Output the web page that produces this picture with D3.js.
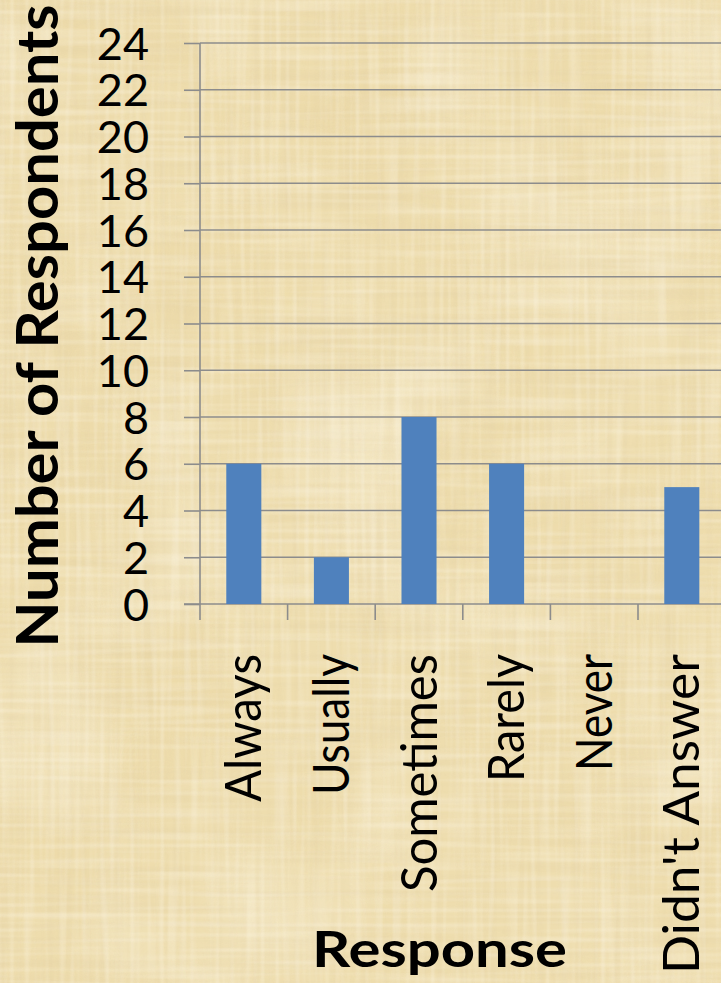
<!DOCTYPE html>
<html>
<head>
<meta charset="utf-8">
<script src="https://cdn.jsdelivr.net/npm/d3@7"></script>
<style>
  html, body { margin: 0; padding: 0; background: #EFDFB2; overflow: hidden; }
  svg { display: block; }
</style>
</head>
<body>
<svg id="chart" width="721" height="983"></svg>
<script>
// Survey responses: how many respondents gave each answer
const categories = ["Always", "Usually", "Sometimes", "Rarely", "Never", "Didn't Answer"];
const respondents = [6, 2, 8, 6, 0, 5];
const yTickValues = [0, 2, 4, 6, 8, 10, 12, 14, 16, 18, 20, 22, 24];
const yTitle = "Number of Respondents";
const xTitle = "Response";

const W = 721, H = 983;
const svg = d3.select("#chart");

// ---- parchment background ----
const defs = svg.append("defs");

function noiseFilter(id, freq, seed, octaves, rgb, gain, bias) {
  const f = defs.append("filter").attr("id", id)
    .attr("filterUnits", "userSpaceOnUse")
    .attr("x", 0).attr("y", 0).attr("width", W).attr("height", H);
  f.append("feTurbulence").attr("type", "fractalNoise")
    .attr("baseFrequency", freq).attr("numOctaves", octaves)
    .attr("seed", seed).attr("stitchTiles", "stitch").attr("result", "n");
  f.append("feColorMatrix").attr("in", "n").attr("type", "matrix")
    .attr("values", `0 0 0 0 ${rgb[0]}  0 0 0 0 ${rgb[1]}  0 0 0 0 ${rgb[2]}  ${gain} 0 0 0 ${bias}`);
}
// broad blotches, then fine horizontal and vertical fibres
noiseFilter("blotch", "0.006 0.005", 7, 3, [0.82, 0.66, 0.34], 2.4, -1.05);
noiseFilter("blotchLight", "0.007 0.006", 21, 2, [0.99, 0.96, 0.86], 2.2, -1.05);
noiseFilter("fibH", "0.004 0.13", 3, 2, [0.76, 0.63, 0.38], 2.8, -1.2);
noiseFilter("fibV", "0.13 0.004", 11, 2, [0.76, 0.63, 0.38], 2.8, -1.2);
noiseFilter("fibH2", "0.008 0.2", 13, 1, [0.99, 0.95, 0.84], 2.8, -1.25);
noiseFilter("fibV2", "0.2 0.008", 17, 1, [0.99, 0.95, 0.84], 2.8, -1.25);

const bg = svg.append("g").attr("class", "parchment");
bg.append("rect").attr("width", W).attr("height", H).attr("fill", "#EEDDAE");
bg.append("rect").attr("width", W).attr("height", H).attr("filter", "url(#blotch)").attr("opacity", 0.4);
bg.append("rect").attr("width", W).attr("height", H).attr("filter", "url(#blotchLight)").attr("opacity", 0.4);
bg.append("rect").attr("width", W).attr("height", H).attr("filter", "url(#fibH)").attr("opacity", 0.22);
bg.append("rect").attr("width", W).attr("height", H).attr("filter", "url(#fibV)").attr("opacity", 0.22);
bg.append("rect").attr("width", W).attr("height", H).attr("filter", "url(#fibH2)").attr("opacity", 0.28);
bg.append("rect").attr("width", W).attr("height", H).attr("filter", "url(#fibV2)").attr("opacity", 0.28);

// ---- scales ----
const plot = { left: 200, top: 43, bottom: 604, step: 87.6 };
const x = d3.scaleBand()
  .domain(categories)
  .range([plot.left, plot.left + plot.step * categories.length])
  .paddingInner(0.6)
  .paddingOuter(0.3);
const xBand = d3.scaleBand()
  .domain(categories)
  .range([plot.left, plot.left + plot.step * categories.length])
  .padding(0);
const y = d3.scaleLinear().domain([0, 24]).range([plot.bottom, plot.top]);

const font = "Lato, 'Open Sans', 'DejaVu Sans', sans-serif";
const gridColor = "#8C8C8C";

// ---- horizontal gridlines ----
svg.append("g").attr("class", "grid")
  .selectAll("line").data(yTickValues.filter(d => d > 0)).join("line")
  .attr("x1", plot.left).attr("x2", W + 10)
  .attr("y1", d => y(d)).attr("y2", d => y(d))
  .attr("stroke", gridColor).attr("stroke-width", 1.6);

// ---- y axis ----
const yAxis = svg.append("g")
  .attr("transform", `translate(${plot.left},0)`)
  .call(d3.axisLeft(y).tickValues(yTickValues).tickSize(16).tickPadding(35).tickSizeOuter(0));
yAxis.select(".domain").remove();
yAxis.selectAll(".tick line").attr("stroke", gridColor).attr("stroke-width", 1.6);
yAxis.selectAll(".tick text")
  .attr("font-family", font).attr("font-size", 45).attr("fill", "#000")
  .attr("dy", "0.36em");
// vertical axis line, continuing down to the category tick length
svg.append("line")
  .attr("x1", plot.left).attr("x2", plot.left)
  .attr("y1", y(24)).attr("y2", plot.bottom + 16)
  .attr("stroke", gridColor).attr("stroke-width", 1.6);

// ---- x axis baseline and category separators ----
svg.append("line")
  .attr("x1", plot.left - 16).attr("x2", W + 10)
  .attr("y1", plot.bottom).attr("y2", plot.bottom)
  .attr("stroke", gridColor).attr("stroke-width", 1.6);
svg.append("g").attr("class", "x-ticks")
  .selectAll("line").data(categories.slice(1).concat(["__end"])).join("line")
  .attr("x1", d => d === "__end" ? xBand.range()[1] : xBand(d))
  .attr("x2", d => d === "__end" ? xBand.range()[1] : xBand(d))
  .attr("y1", plot.bottom).attr("y2", plot.bottom + 16)
  .attr("stroke", gridColor).attr("stroke-width", 1.6);

// ---- bars ----
svg.append("g").attr("class", "bars")
  .selectAll("rect").data(categories.map((c, i) => ({ c, v: respondents[i] }))).join("rect")
  .attr("x", d => x(d.c))
  .attr("width", x.bandwidth())
  .attr("y", d => y(d.v))
  .attr("height", d => y(0) - y(d.v))
  .attr("fill", "#4F81BD");

// ---- rotated category labels ----
const labelLen = { "Always": 148, "Usually": 141, "Sometimes": 238, "Rarely": 128, "Never": 117, "Didn't Answer": 320 };
svg.append("g").attr("class", "x-labels")
  .selectAll("text").data(categories).join("text")
  .attr("transform", d => `translate(${xBand(d) + xBand.bandwidth() / 2},${plot.bottom + 50}) rotate(-90)`)
  .attr("text-anchor", "end")
  .attr("dy", "0.35em")
  .attr("font-family", font).attr("font-size", 50).attr("fill", "#000")
  .attr("textLength", d => labelLen[d]).attr("lengthAdjust", "spacingAndGlyphs")
  .text(d => d);

// ---- axis titles ----
svg.append("text")
  .attr("transform", `translate(58,326) rotate(-90)`)
  .attr("text-anchor", "middle")
  .attr("font-family", font).attr("font-weight", 700).attr("font-size", 57).attr("fill", "#000")
  .attr("textLength", 643).attr("lengthAdjust", "spacingAndGlyphs")
  .text(yTitle);

svg.append("text")
  .attr("x", 439.5).attr("y", 967)
  .attr("text-anchor", "middle")
  .attr("font-family", font).attr("font-weight", 700).attr("font-size", 50).attr("fill", "#000")
  .attr("textLength", 255).attr("lengthAdjust", "spacingAndGlyphs")
  .text(xTitle);
</script>
</body>
</html>
